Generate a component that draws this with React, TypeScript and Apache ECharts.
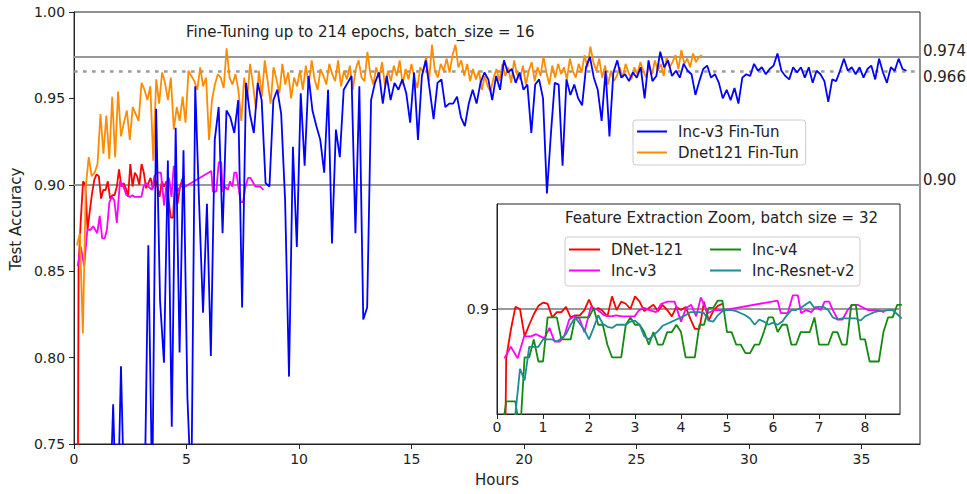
import React, { useEffect, useRef } from 'react';
import * as echarts from 'echarts';

// ---------- axis ticks ----------
const X_TICKS = [0, 5, 10, 15, 20, 25, 30, 35];
const Y_TICKS = [0.75, 0.8, 0.85, 0.9, 0.95, 1.0];
const INSET_X_TICKS = [0, 1, 2, 3, 4, 5, 6, 7, 8];
const INSET_Y_TICKS = [0.9];
const REF_LEVELS = [0.974, 0.966, 0.9];
const REF_LABELS = ['0.974', '0.966', '0.90'];
const INSET_REF_LEVELS = [0.9];

// ---------- fine-tuning series (one value per epoch) ----------
const INC_V3_FT_START_H = 0;
const INC_V3_FT_H_PER_EPOCH = 0.1737;
const INC_V3_FT_ACC = [
  0.30, 0.42, 0.48, 0.55, 0.58, 0.62, 0.60, 0.66, 0.64, 0.70,
  0.773, 0.69, 0.795, 0.70, 0.68, 0.72, 0.70, 0.73, 0.71, 0.865,
  0.72, 0.944, 0.833, 0.797, 0.914, 0.76, 0.933, 0.803, 0.92, 0.777,
  0.72, 0.957, 0.889, 0.826, 0.889, 0.801, 0.926, 0.945, 0.872, 0.943,
  0.939, 0.930, 0.949, 0.829, 0.959, 0.941, 0.930, 0.959, 0.949, 0.901,
  0.899, 0.949, 0.955, 0.941, 0.891, 0.789, 0.922, 0.864, 0.953, 0.911,
  0.963, 0.943, 0.934, 0.926, 0.907, 0.955, 0.866, 0.932, 0.916, 0.955,
  0.959, 0.963, 0.872, 0.957, 0.822, 0.829, 0.949, 0.959, 0.965, 0.947,
  0.963, 0.949, 0.959, 0.955, 0.961, 0.953, 0.936, 0.965, 0.926, 0.963,
  0.972, 0.955, 0.938, 0.959, 0.961, 0.945, 0.947, 0.947, 0.951, 0.939,
  0.934, 0.947, 0.955, 0.947, 0.959, 0.965, 0.961, 0.949, 0.963, 0.955,
  0.972, 0.965, 0.967, 0.959, 0.965, 0.955, 0.958, 0.930, 0.958, 0.961,
  0.950, 0.895, 0.929, 0.959, 0.958, 0.911, 0.961, 0.952, 0.958, 0.950,
  0.946, 0.968, 0.974, 0.962, 0.955, 0.937, 0.966, 0.928, 0.965, 0.972,
  0.962, 0.964, 0.960, 0.965, 0.962, 0.968, 0.950, 0.972, 0.960, 0.963,
  0.977, 0.968, 0.972, 0.963, 0.966, 0.962, 0.970, 0.966, 0.964, 0.952,
  0.960, 0.967, 0.969, 0.962, 0.964, 0.959, 0.950, 0.955, 0.949, 0.956,
  0.947, 0.962, 0.964, 0.963, 0.970, 0.966, 0.968, 0.964, 0.967, 0.969,
  0.976, 0.966, 0.963, 0.961, 0.968, 0.965, 0.968, 0.962, 0.968, 0.959,
  0.966, 0.964, 0.960, 0.948, 0.961, 0.960, 0.966, 0.973, 0.966, 0.968,
  0.964, 0.968, 0.962, 0.967, 0.969, 0.961, 0.973, 0.965, 0.959, 0.968,
  0.966, 0.973, 0.967, 0.966,
];

const DNET_FT_START_H = 0.13;
const DNET_FT_H_PER_EPOCH = 0.1304;
const DNET_FT_ACC = [
  0.865, 0.872, 0.814, 0.899, 0.916, 0.905, 0.907, 0.912, 0.941, 0.918,
  0.940, 0.915, 0.951, 0.916, 0.954, 0.928, 0.936, 0.943, 0.926, 0.945,
  0.941, 0.937, 0.959, 0.955, 0.949, 0.957, 0.914, 0.961, 0.947, 0.965,
  0.959, 0.949, 0.962, 0.932, 0.945, 0.937, 0.951, 0.936, 0.966, 0.963,
  0.960, 0.955, 0.968, 0.957, 0.962, 0.926, 0.949, 0.958, 0.964, 0.962,
  0.956, 0.979, 0.962, 0.958, 0.964,
  0.955, 0.937, 0.962, 0.949, 0.970, 0.958, 0.944, 0.966, 0.951, 0.972,
  0.960, 0.947, 0.968, 0.961, 0.953, 0.970, 0.958, 0.965, 0.950, 0.962, 0.957,
  0.966, 0.955, 0.969, 0.958, 0.972, 0.961, 0.955, 0.967, 0.963, 0.958,
  0.970, 0.964, 0.960, 0.972, 0.957, 0.966, 0.961, 0.969, 0.955, 0.967,
  0.972, 0.962, 0.960,
  0.977, 0.964, 0.958, 0.968, 0.962, 0.971, 0.957, 0.966, 0.960, 0.969,
  0.963, 0.972, 0.958, 0.967, 0.961, 0.970, 0.962, 0.956, 0.968, 0.965,
  0.974, 0.960, 0.981, 0.966,
  0.962, 0.970, 0.966, 0.973, 0.965, 0.975, 0.981, 0.968, 0.972, 0.963,
  0.970, 0.960, 0.967, 0.961, 0.966, 0.955, 0.963, 0.957, 0.954, 0.962,
  0.967, 0.960, 0.970, 0.963, 0.968, 0.959, 0.972, 0.964, 0.961, 0.969, 0.958,
  0.966, 0.971, 0.960, 0.968, 0.963, 0.974, 0.965, 0.958, 0.969, 0.962,
  0.970, 0.964, 0.968, 0.961, 0.973, 0.966, 0.962, 0.970, 0.965, 0.975,
  0.968, 0.980, 0.971, 0.966, 0.973, 0.962, 0.969, 0.958, 0.966, 0.960,
  0.963, 0.968, 0.962, 0.970, 0.965, 0.961, 0.968, 0.964, 0.971, 0.966,
  0.962, 0.969, 0.964, 0.972, 0.966, 0.970, 0.963, 0.974, 0.968, 0.971,
  0.975, 0.967, 0.978, 0.970, 0.973, 0.968, 0.976, 0.971, 0.974, 0.975,
];

// ---------- feature extraction series ----------
const FE_START_H = 0.1;
const FE_H_PER_EPOCH = 0.1;
const FE_DNET121_ACC = [
  0.45, 0.853, 0.880, 0.902, 0.900, 0.874, 0.885, 0.895, 0.903, 0.906,
  0.905, 0.892, 0.897, 0.897, 0.902, 0.892, 0.894, 0.894, 0.899, 0.909,
  0.899, 0.901, 0.898, 0.893, 0.912, 0.899, 0.907, 0.905, 0.900, 0.912,
  0.907, 0.898, 0.901, 0.904, 0.898, 0.904, 0.899, 0.893, 0.902, 0.899,
  0.902, 0.891, 0.881, 0.881, 0.907, 0.889, 0.898, 0.903, 0.905,
];
const FE_INCV3_HOURS = [
  0.16, 0.30, 0.45, 0.59, 0.74, 0.85, 1.03, 1.14, 1.25, 1.36, 1.46, 1.57, 1.68, 1.79, 1.90,
  2.04, 2.19, 2.33, 2.48, 2.59, 2.70, 2.84, 2.99, 3.09, 3.20, 3.31, 3.46, 3.57, 3.71, 3.86,
  4.00, 4.11, 4.22, 4.33, 4.43, 4.58, 4.72, 4.94, 6.10, 6.17, 6.32, 6.43, 6.54, 6.61, 6.72,
  6.83, 6.93, 7.04, 7.12, 7.22, 7.30, 7.41, 7.51, 7.62, 7.73, 7.84, 8.06, 8.28, 8.42,
];
const FE_INCV3_ACC = [
  0.853, 0.864, 0.853, 0.874, 0.874, 0.876, 0.872, 0.882, 0.869, 0.869, 0.874, 0.890, 0.893, 0.891, 0.878,
  0.902, 0.899, 0.894, 0.893, 0.894, 0.893, 0.893, 0.893, 0.899, 0.901, 0.899, 0.897, 0.905, 0.907, 0.907,
  0.888, 0.901, 0.904, 0.893, 0.911, 0.896, 0.899, 0.899, 0.908, 0.896, 0.896, 0.913, 0.913, 0.896, 0.899,
  0.897, 0.902, 0.899, 0.907, 0.907, 0.899, 0.890, 0.890, 0.899, 0.904, 0.904, 0.899, 0.899, 0.897,
];
const FE_INCV4_ACC = [
  0.78, 0.812, 0.812, 0.812, 0.78, 0.854, 0.854, 0.871, 0.850, 0.850,
  0.892, 0.892, 0.892, 0.871, 0.871, 0.871, 0.892, 0.892, 0.892, 0.892,
  0.901, 0.885, 0.885, 0.866, 0.854, 0.854, 0.854, 0.885, 0.892, 0.885,
  0.885, 0.878, 0.866, 0.878, 0.866, 0.866, 0.878, 0.878, 0.885, 0.878,
  0.854, 0.854, 0.854, 0.885, 0.885, 0.901, 0.901, 0.908, 0.908, 0.878,
  0.878, 0.866, 0.866, 0.858, 0.858, 0.866, 0.866, 0.878, 0.892, 0.892,
  0.878, 0.885, 0.885, 0.866, 0.866, 0.878, 0.878, 0.878, 0.892, 0.866,
  0.866, 0.866, 0.878, 0.878, 0.866, 0.866, 0.904, 0.904, 0.871, 0.871,
  0.850, 0.850, 0.850, 0.878, 0.892, 0.892, 0.904, 0.904,
];
const FE_INCRESV2_ACC = [
  0.78, 0.78, 0.78, 0.80, 0.843, 0.832, 0.864, 0.864, 0.864, 0.871,
  0.871, 0.871, 0.869, 0.872, 0.876, 0.885, 0.892, 0.886, 0.880, 0.871,
  0.882, 0.894, 0.886, 0.883, 0.882, 0.885, 0.885, 0.885, 0.888, 0.889,
  0.885, 0.874, 0.871, 0.875, 0.879, 0.884, 0.886, 0.888, 0.890, 0.892,
  0.894, 0.897, 0.897, 0.897, 0.896, 0.889, 0.888, 0.894, 0.898, 0.899,
  0.899, 0.898, 0.896, 0.894, 0.891, 0.885, 0.890, 0.888, 0.885, 0.887,
  0.885, 0.888, 0.894, 0.899, 0.899, 0.901, 0.904, 0.907, 0.901, 0.902,
  0.902, 0.899, 0.892, 0.890, 0.891, 0.891, 0.891, 0.891, 0.889, 0.893,
  0.895, 0.897, 0.898, 0.898, 0.899, 0.899, 0.895, 0.891,
];

const stepped = (start: number, step: number, vals: number[]) =>
  vals.map((v, i) => [Math.round((start + i * step) * 10000) / 10000, v]);
const paired = (xs: number[], ys: number[]) => xs.map((x, i) => [x, ys[i]]);

const FONT = 'DejaVu Sans';
const TXT = '#222';
const FS = 15;
const TICK_FS = 14;
const LW = 1.8;

function buildOption() {
  const blueData = stepped(INC_V3_FT_START_H, INC_V3_FT_H_PER_EPOCH, INC_V3_FT_ACC);
  const orangeData = stepped(DNET_FT_START_H, DNET_FT_H_PER_EPOCH, DNET_FT_ACC);
  const redData = stepped(FE_START_H, FE_H_PER_EPOCH, FE_DNET121_ACC);
  const magentaData = paired(FE_INCV3_HOURS, FE_INCV3_ACC);
  const greenData = stepped(FE_START_H, FE_H_PER_EPOCH, FE_INCV4_ACC);
  const tealData = stepped(FE_START_H, FE_H_PER_EPOCH, FE_INCRESV2_ACC);

  // label placement relative to each reference line: above, below, above
  const refAlign = ['bottom', 'top', 'bottom'];
  const refLineH = [11, 12, 9];
  const mainMarks = REF_LEVELS.map((lv, i) => ({
    yAxis: lv,
    lineStyle: i === 1
      ? { type: [3.5, 5.5], color: '#999', width: 2.5 }
      : { type: 'solid', color: '#999', width: 2 },
    label: { formatter: REF_LABELS[i], verticalAlign: refAlign[i], lineHeight: refLineH[i] },
  }));

  const lineBase = (color: string) => ({
    type: 'line',
    showSymbol: false,
    symbol: 'none',
    clip: true,
    lineStyle: { color, width: LW },
    itemStyle: { color },
    emphasis: { disabled: true },
  });

  const axisCommon = {
    axisLine: { show: true, lineStyle: { color: TXT, width: 1 } },
    axisTick: { show: true, inside: false, length: 5, lineStyle: { color: TXT, width: 1 } },
    splitLine: { show: false },
  };

  const legendText = { fontSize: FS, color: TXT, fontFamily: FONT, padding: [0, 0, 0, 6] };

  return {
    animation: false,
    backgroundColor: '#fff',
    textStyle: { fontFamily: FONT },
    title: [
      {
        text: 'Fine-Tuning up to 214 epochs, batch_size = 16',
        left: 186, top: 24, padding: 0,
        textStyle: { fontSize: FS, fontWeight: 'normal', color: TXT, fontFamily: FONT },
      },
      {
        text: 'Feature Extraction Zoom, batch size = 32',
        left: 565, top: 210, padding: 0, z: 6,
        textStyle: { fontSize: FS, fontWeight: 'normal', color: TXT, fontFamily: FONT },
      },
    ],
    graphic: [
      {
        type: 'rect', z: 5, silent: true,
        shape: { x: 565, y: 237, width: 295, height: 49, r: 3 },
        style: { fill: '#fff', stroke: '#ccc', lineWidth: 1 },
      },
    ],
    legend: [
      {
        data: ['Inc-v3 Fin-Tun', 'Dnet121 Fin-Tun'],
        orient: 'vertical', left: 633, top: 120, z: 6,
        icon: 'rect', itemWidth: 30, itemHeight: 2, itemGap: 6,
        backgroundColor: '#fff', borderColor: '#ccc', borderWidth: 1, borderRadius: 3,
        padding: [4, 7, 5, 4],
        textStyle: legendText,
        selectedMode: false,
      },
      {
        data: ['DNet-121', 'Inc-v3'],
        orient: 'vertical', left: 569, top: 242, z: 6,
        icon: 'rect', itemWidth: 31, itemHeight: 2, itemGap: 6, padding: 0,
        textStyle: legendText,
        selectedMode: false,
      },
      {
        data: ['Inc-v4', 'Inc-Resnet-v2'],
        orient: 'vertical', left: 710, top: 242, z: 6,
        icon: 'rect', itemWidth: 31, itemHeight: 2, itemGap: 6, padding: 0,
        textStyle: legendText,
        selectedMode: false,
      },
    ],
    grid: [
      { left: 74, right: 47, top: 12, bottom: 50, show: true, borderColor: TXT, borderWidth: 1, backgroundColor: 'transparent' },
      { left: 497, top: 204, width: 403, height: 210, show: true, borderColor: TXT, borderWidth: 1, backgroundColor: '#fff', z: 3 },
    ],
    xAxis: [
      {
        ...axisCommon,
        type: 'value', gridIndex: 0, min: 0, max: 37.6,
        axisTick: { ...axisCommon.axisTick, customValues: X_TICKS },
        axisLabel: { customValues: X_TICKS, fontSize: TICK_FS, color: TXT, margin: 8, fontFamily: FONT },
        name: 'Hours', nameLocation: 'middle', nameGap: 28,
        nameTextStyle: { fontSize: FS, color: TXT, fontFamily: FONT },
      },
      {
        ...axisCommon,
        type: 'value', gridIndex: 1, min: 0, max: 8.76, z: 4,
        axisTick: { ...axisCommon.axisTick, customValues: INSET_X_TICKS },
        axisLabel: { customValues: INSET_X_TICKS, fontSize: TICK_FS, color: TXT, margin: 6, fontFamily: FONT },
      },
    ],
    yAxis: [
      {
        ...axisCommon,
        type: 'value', gridIndex: 0, min: 0.75, max: 1.0,
        axisTick: { ...axisCommon.axisTick, customValues: Y_TICKS },
        axisLabel: {
          customValues: Y_TICKS, fontSize: TICK_FS, color: TXT, margin: 9, fontFamily: FONT,
          formatter: (v: number) => v.toFixed(2),
        },
        name: 'Test Accuracy', nameLocation: 'middle', nameGap: 48,
        nameTextStyle: { fontSize: FS, color: TXT, fontFamily: FONT, padding: [0, 0, 0, 18] },
      },
      {
        ...axisCommon,
        type: 'value', gridIndex: 1, min: 0.8, max: 1.0, z: 4,
        axisTick: { ...axisCommon.axisTick, customValues: INSET_Y_TICKS },
        axisLabel: {
          customValues: INSET_Y_TICKS, fontSize: TICK_FS, color: TXT, margin: 8, fontFamily: FONT,
          formatter: (v: number) => v.toFixed(1),
        },
      },
    ],
    series: [
      {
        name: 'refMain', type: 'line', xAxisIndex: 0, yAxisIndex: 0, data: [], silent: true,
        markLine: {
          silent: true, symbol: ['none', 'none'], z: 1, animation: false, precision: 3,
          label: { show: true, position: 'end', distance: 3, color: TXT, fontSize: FS, fontFamily: FONT },
          data: mainMarks,
        },
      },
      { ...lineBase('#ff0000'), name: 'DNet-121', xAxisIndex: 0, yAxisIndex: 0, data: redData, z: 2 },
      { ...lineBase('#ff00ff'), name: 'Inc-v3', xAxisIndex: 0, yAxisIndex: 0, data: magentaData, z: 2 },
      { ...lineBase('#ff8c00'), name: 'Dnet121 Fin-Tun', xAxisIndex: 0, yAxisIndex: 0, data: orangeData, z: 2 },
      { ...lineBase('#0000ff'), name: 'Inc-v3 Fin-Tun', xAxisIndex: 0, yAxisIndex: 0, data: blueData, z: 2 },
      {
        name: 'refInset', type: 'line', xAxisIndex: 1, yAxisIndex: 1, data: [], silent: true, z: 4,
        markLine: {
          silent: true, symbol: ['none', 'none'], z: 4, animation: false, precision: 3,
          label: { show: false },
          lineStyle: { type: 'solid', color: '#999', width: 2 },
          data: INSET_REF_LEVELS.map((lv) => ({ yAxis: lv })),
        },
      },
      { ...lineBase('#ff0000'), name: 'DNet-121', xAxisIndex: 1, yAxisIndex: 1, data: redData, z: 4 },
      { ...lineBase('#ff00ff'), name: 'Inc-v3', xAxisIndex: 1, yAxisIndex: 1, data: magentaData, z: 4 },
      { ...lineBase('#138a13'), name: 'Inc-v4', xAxisIndex: 1, yAxisIndex: 1, data: greenData, z: 4 },
      { ...lineBase('#1f8b94'), name: 'Inc-Resnet-v2', xAxisIndex: 1, yAxisIndex: 1, data: tealData, z: 4 },
    ],
  };
}

export default function App() {
  const ref = useRef<HTMLDivElement>(null);
  useEffect(() => {
    document.body.style.margin = '0';
    const chart = echarts.init(ref.current as HTMLDivElement, null, { renderer: 'svg' });
    chart.setOption(buildOption() as any);
    return () => chart.dispose();
  }, []);
  return <div ref={ref} style={{ width: 967, height: 494 }} />;
}
